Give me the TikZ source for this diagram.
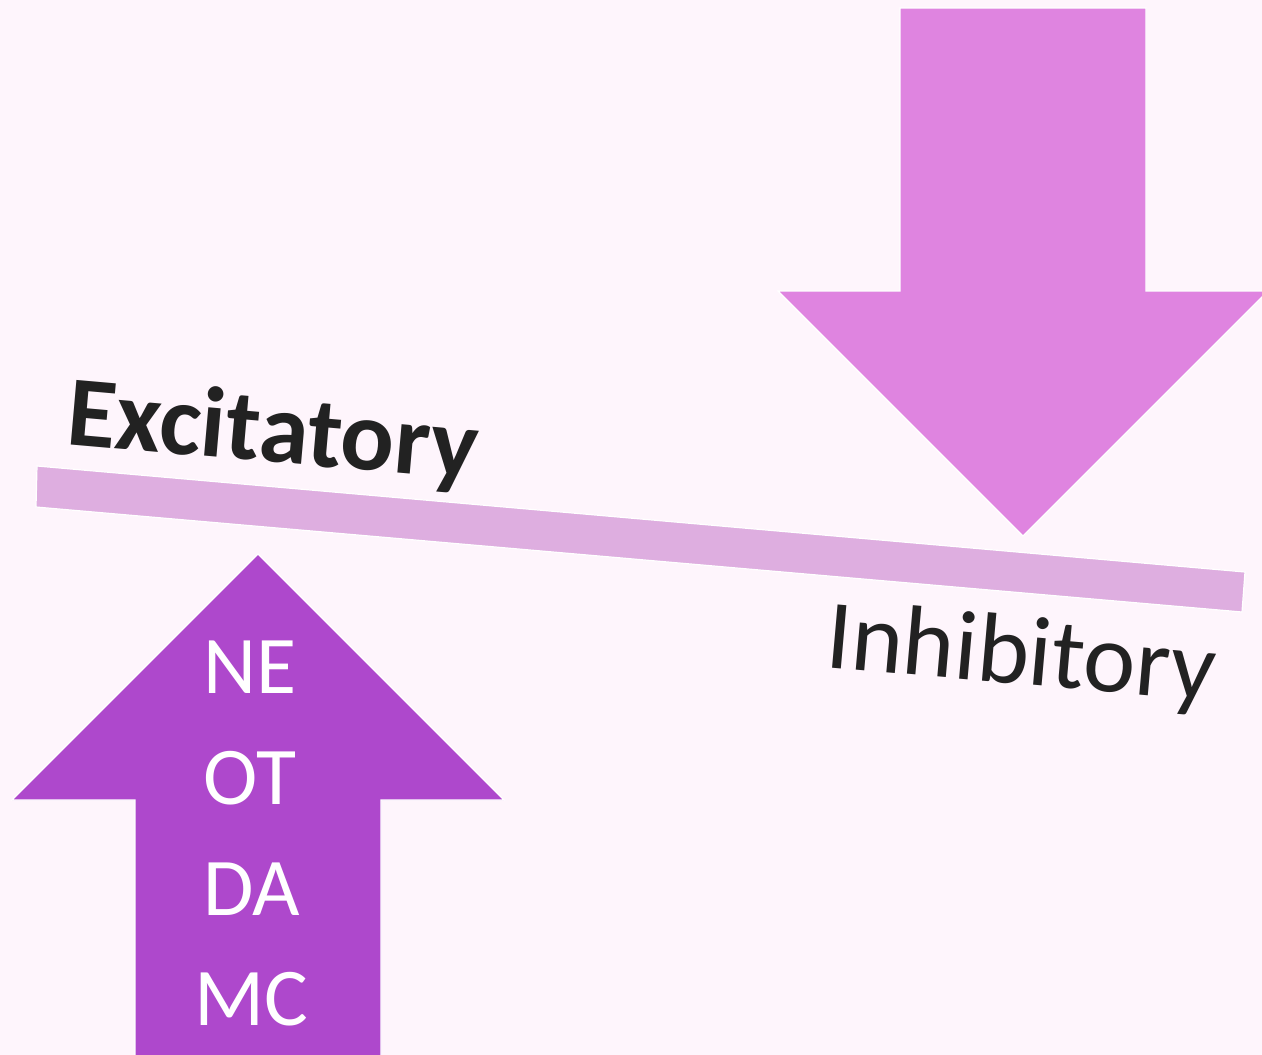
\documentclass[tikz,border=0pt]{standalone}
\usepackage{fontspec}
\setmainfont{Carlito}
\definecolor{bgc}{HTML}{FEF5FC}
\definecolor{downc}{HTML}{DF84E0}
\definecolor{upc}{HTML}{AE48CC}
\definecolor{barc}{HTML}{DEAEE0}
\definecolor{txtc}{HTML}{222222}
\begin{document}
\begin{tikzpicture}[x=1pt,y=-1pt,
  shapeedge/.style={draw=white,line width=1.2pt,line join=miter},
  lbl/.style={text=white,font=\fontsize{82}{82}\selectfont,inner sep=0pt,anchor=base},
  tilted/.style={text=txtc,inner sep=0pt,anchor=base west,rotate=-5}]
\fill[bgc] (0,0) rectangle (1262,1055);
\useasboundingbox (0,0) rectangle (1262,1055);
% bar
\path[shapeedge,fill=barc] (37,466) -- (1245,572) -- (1242,612) -- (36,507) -- cycle;
% down arrow
\path[shapeedge,fill=downc] (900,8) -- (1146,8) -- (1146,291) -- (1268,291) -- (1023,536) -- (778,291) -- (900,291) -- cycle;
% up arrow
\path[shapeedge,fill=upc] (135,1062) -- (135,800) -- (12,800) -- (258,554) -- (504,800) -- (381,800) -- (381,1062) -- cycle;
% labels
\node[lbl] (ne) at (250,693) {NE};
\node[lbl] (ot) at (250,804) {OT};
\node[lbl] (da) at (252,915) {DA};
\node[lbl] (mc) at (251,1025) {MC};
\node[tilted,font=\bfseries\fontsize{100}{100}\selectfont] (exc) at (65,444) {Excitatory};
\node[tilted,font=\fontsize{99}{99}\selectfont] (inh) at (824,667) {Inhibitory};
\end{tikzpicture}
\end{document}
